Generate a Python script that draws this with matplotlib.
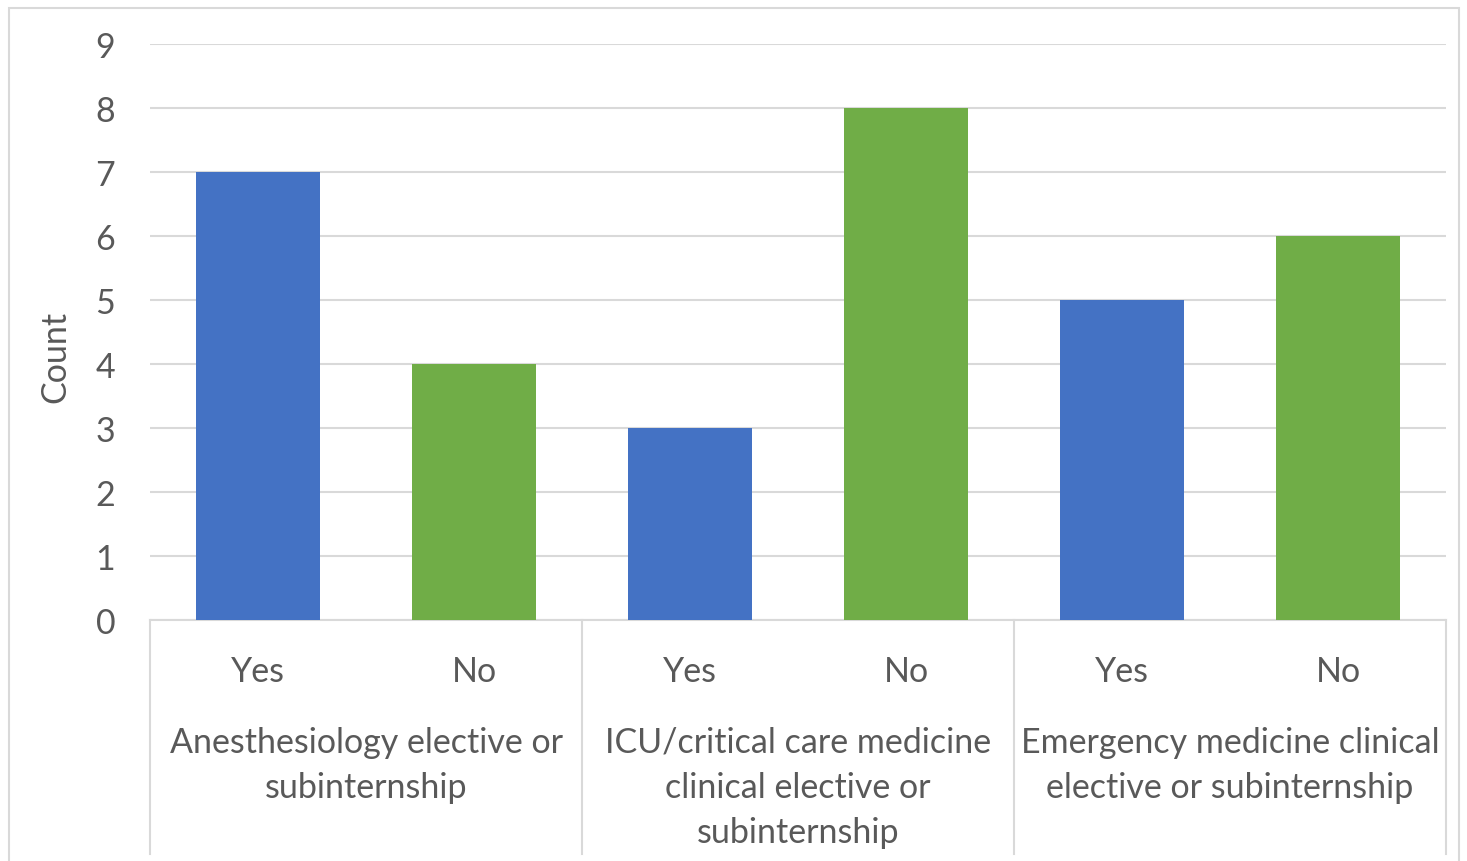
import matplotlib
matplotlib.use("Agg")
import matplotlib.pyplot as plt
from matplotlib.lines import Line2D
from matplotlib.patches import Rectangle

# ---- data ----
groups = [
    ["Anesthesiology elective or", "subinternship"],
    ["ICU/critical care medicine", "clinical elective or", "subinternship"],
    ["Emergency medicine clinical", "elective or subinternship"],
]
sub_labels = ["Yes", "No", "Yes", "No", "Yes", "No"]
counts = [7, 4, 3, 8, 5, 6]
bar_colors = ["#4472C4", "#70AD47", "#4472C4", "#70AD47", "#4472C4", "#70AD47"]
y_ticks = [0, 1, 2, 3, 4, 5, 6, 7, 8, 9]

W, H = 1467, 862
FONT = "Lato"
TXT = "#595959"
GRID = "#D9D9D9"
FS = 24.5

fig = plt.figure(figsize=(W / 100, H / 100), dpi=100)
fig.patch.set_facecolor("white")

# outer chart border
fig.add_artist(Rectangle((9 / W, -0.01), (1459 - 9) / W, 1 - 9 / H + 0.01,
                         transform=fig.transFigure, fill=False,
                         edgecolor=GRID, linewidth=1.5))

left, right, top, bottom = 150, 1446, 45, 621
pw, ph = right - left, bottom - top
ax = fig.add_axes([left / W, 1 - bottom / H, pw / W, ph / H])

x = list(range(len(counts)))
ax.bar(x, counts, width=0.575, color=bar_colors, zorder=3)
ax.set_xlim(-0.5, len(counts) - 0.5)
ax.set_ylim(0, 9)
ax.set_yticks(y_ticks)
ax.set_yticklabels([str(t) for t in y_ticks], fontsize=FS, color=TXT, family=FONT)
ax.tick_params(axis="y", length=0, pad=25)
ax.grid(axis="y", color=GRID, linewidth=1.5, zorder=0)
ax.set_axisbelow(True)
for s in ["top", "right", "left"]:
    ax.spines[s].set_visible(False)
ax.spines["bottom"].set_color(GRID)
ax.spines["bottom"].set_linewidth(1.5)

ax.set_xticks(x)
ax.set_xticklabels(sub_labels, fontsize=FS, color=TXT, family=FONT)
ax.tick_params(axis="x", length=0, pad=25)

ax.set_ylabel("Count", fontsize=FS, color=TXT, family=FONT)
ax.yaxis.label.set_va("center")
ax.yaxis.set_label_coords(-(left - 55) / pw, (bottom - 357) / ph)

# group separators
sep_bottom = -(855 - bottom) / ph
for k in range(len(groups) + 1):
    xd = -0.5 + 2 * k
    ax.add_line(Line2D([xd, xd], [0, sep_bottom], transform=ax.get_xaxis_transform(),
                       color=GRID, linewidth=1.5, clip_on=False))

# group labels
line_y = [743, 788, 833]
for g, lines in enumerate(groups):
    xc = 2 * g + 0.5
    for i, ln in enumerate(lines):
        ax.text(xc, -(line_y[i] - bottom) / ph, ln, transform=ax.get_xaxis_transform(),
                ha="center", va="center", fontsize=FS, color=TXT, family=FONT)

fig.savefig("out.png", dpi=100)
